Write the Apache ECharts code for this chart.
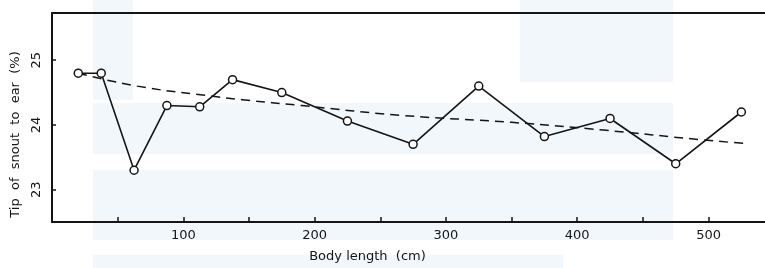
<!DOCTYPE html>
<html>
<head>
<meta charset="utf-8">
<script src="https://cdn.jsdelivr.net/npm/echarts@6/dist/echarts.min.js"></script>
<style>
  html, body { margin: 0; padding: 0; background: #fff; }
  #chart { width: 765px; height: 268px; }
</style>
</head>
<body>
<div id="chart"></div>
<script>
// body length (cm) and tip of snout to ear (%) per length class
var bodyLength = [20, 37.5, 62.5, 87.5, 112.5, 137.5, 175, 225, 275, 325, 375, 425, 475, 525];
var snoutToEar = [24.8, 24.8, 23.3, 24.3, 24.28, 24.7, 24.5, 24.06, 23.7, 24.6, 23.82, 24.1, 23.4, 24.2];

// fitted curve (dashed)
var trendX = [20, 65, 120, 145, 190, 265, 350, 420, 495, 530];
var trendY = [24.8, 24.6, 24.45, 24.39, 24.3, 24.15, 24.04, 23.92, 23.77, 23.71];

var xLabels = [100, 200, 300, 400, 500];
var xTicks = [50, 100, 150, 200, 250, 300, 350, 400, 450, 500];
var yLabels = [23, 24, 25];

function pairs(xs, ys) {
    return xs.map(function (x, i) { return [x, ys[i]]; });
}

var chart = echarts.init(document.getElementById("chart"), null, {renderer: "canvas"});
var font = "DejaVu Sans";
var ink = "#151515";
var pale = "#f2f7fb";

chart.setOption({
    backgroundColor: "#fff",
    animation: false,
    // faint watermark bands behind the plot
    graphic: [
        {type: "rect", z: -10, shape: {x: 93, y: 103, width: 580, height: 51}, style: {fill: pale}},
        {type: "rect", z: -10, shape: {x: 93, y: 170, width: 580, height: 70}, style: {fill: pale}},
        {type: "rect", z: -10, shape: {x: 93, y: 255, width: 470, height: 13}, style: {fill: pale}},
        {type: "rect", z: -10, shape: {x: 93, y: 0, width: 40, height: 100}, style: {fill: pale}},
        {type: "rect", z: -10, shape: {x: 520, y: 0, width: 153, height: 82}, style: {fill: pale}}
    ],
    grid: {left: 52, top: 13, right: 0, bottom: 43},
    xAxis: [{
        type: "value",
        min: 0,
        max: 543,
        name: "Body length  (cm)",
        nameLocation: "middle",
        nameGap: 28,
        nameTextStyle: {fontFamily: font, fontSize: 13, color: ink, padding: [0, 82, 0, 0]},
        splitLine: {show: false},
        axisLine: {lineStyle: {color: ink, width: 2}},
        axisTick: {inside: true, length: 5, customValues: xTicks, lineStyle: {color: ink, width: 1.5}},
        axisLabel: {customValues: xLabels, margin: 7, fontFamily: font, fontSize: 13, color: ink}
    }, {
        type: "value",
        position: "top",
        min: 0,
        max: 543,
        splitLine: {show: false},
        axisLine: {show: true, lineStyle: {color: ink, width: 2}},
        axisTick: {show: false},
        axisLabel: {show: false}
    }],
    yAxis: {
        type: "value",
        min: 22.5,
        max: 25.73,
        name: "Tip  of  snout  to  ear  (%)",
        nameLocation: "middle",
        nameGap: 30,
        nameTextStyle: {fontFamily: font, fontSize: 13, color: ink, padding: [0, 34, 0, 0]},
        splitLine: {show: false},
        axisLine: {lineStyle: {color: ink, width: 2}},
        axisTick: {inside: true, length: 4, customValues: yLabels, lineStyle: {color: ink, width: 1.5}},
        axisLabel: {customValues: yLabels, rotate: 90, margin: 9, fontFamily: font, fontSize: 13, color: ink}
    },
    series: [{
        type: "line",
        data: pairs(trendX, trendY),
        smooth: true,
        symbol: "none",
        lineStyle: {color: ink, width: 1.5, type: [9, 6]},
        z: 2
    }, {
        type: "line",
        data: pairs(bodyLength, snoutToEar),
        symbol: "circle",
        symbolSize: 8,
        itemStyle: {color: "#fff", borderColor: ink, borderWidth: 1.5},
        lineStyle: {color: ink, width: 1.6},
        z: 3
    }]
});
</script>
</body>
</html>
